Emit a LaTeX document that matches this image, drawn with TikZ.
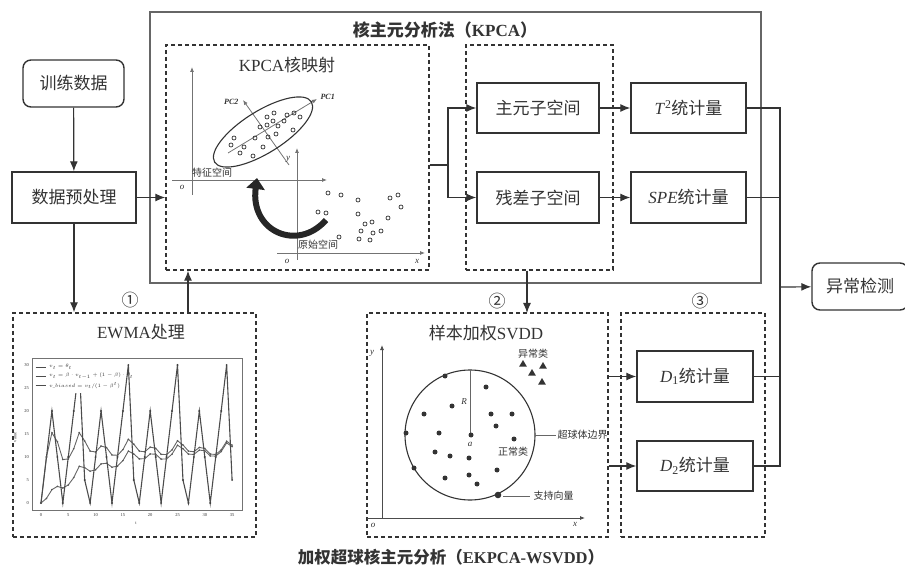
\documentclass[tikz,border=0pt]{standalone}
\usepackage{fontspec}
\setmainfont{Liberation Serif}
\newfontfamily\cjk{Noto Sans CJK SC}
\usepackage{tikz}
\usetikzlibrary{arrows.meta,positioning,calc}

\begin{document}
\begin{tikzpicture}[x=1pt,y=-1pt,line width=1.2pt,color=black!80,
    box/.style={draw,line width=1.4pt,inner sep=0pt,minimum height=50pt,font=\fontsize{17}{20}\selectfont},
    dbox/.style={draw,line width=1.4pt,dash pattern=on 4pt off 3pt,inner sep=0pt},
    arr/.style={-{Latex[length=10pt,width=8pt]}},
    axisarr/.style={black!55,line width=0.8pt,-{Latex[length=5pt,width=4pt]}},
    small/.style={font=\fontsize{10}{11}\selectfont\cjk,inner sep=1pt},
    ital/.style={font=\fontsize{9}{10}\selectfont\itshape,inner sep=1pt},
    ticklab/.style={font=\fontsize{4.5}{5}\selectfont,inner sep=0.5pt}]
        \useasboundingbox (0,0) rectangle (905,569);

        % KPCA frame
        \node[draw=black!60,line width=1.5pt,minimum width=611pt,minimum height=271pt] (kpca) at (455.5,147.5) {};
        \node[font=\fontsize{17}{20}\selectfont\bfseries] (kpcatitle) at (445,30) {{\cjk 核主元分析法（}KPCA{\cjk ）}};

        % dashed frames
        \node[dbox,minimum width=263pt,minimum height=225pt] (mapbox) at (297.5,157.5) {};
        \node[dbox,minimum width=147pt,minimum height=225pt] (subbox) at (539.5,157.5) {};
        \node[dbox,minimum width=243pt,minimum height=224pt] (ewmabox) at (134.5,425) {};
        \node[dbox,minimum width=241pt,minimum height=224pt] (svddbox) at (487.5,425) {};
        \node[dbox,minimum width=144pt,minimum height=224pt] (statbox) at (693,425) {};

        % boxes
        \node[box,rounded corners=8pt,minimum width=101pt,minimum height=47pt] (train) at (73.5,83.5) {\cjk 训练数据};
        \node[box,minimum width=124pt,minimum height=51pt] (prep) at (74,197.5) {\cjk 数据预处理};
        \node[box,minimum width=122pt] (pcs) at (538,108) {\cjk 主元子空间};
        \node[box,minimum width=122pt,minimum height=51pt] (res) at (538,197.5) {\cjk 残差子空间};
        \node[box,minimum width=115pt] (tsq) at (688.5,108) {\textit{T}\textsuperscript{2}{\cjk 统计量}};
        \node[box,minimum width=115pt,minimum height=51pt] (spe) at (688.5,197.5) {\textit{SPE}{\cjk 统计量}};
        \node[box,minimum width=116pt,minimum height=51pt] (d1) at (695,376.5) {\textit{D}\textsubscript{1}{\cjk 统计量}};
        \node[box,minimum width=116pt] (d2) at (695,466) {\textit{D}\textsubscript{2}{\cjk 统计量}};
        \node[box,rounded corners=8pt,minimum width=96pt,minimum height=47pt] (alarm) at (860,286.5) {\cjk 异常检测};

        % numbers and bottom title
        \node[font=\fontsize{17}{20}\selectfont\cjk] (n1) at (130,300) {①};
        \node[font=\fontsize{17}{20}\selectfont\cjk] (n2) at (497,301) {②};
        \node[font=\fontsize{17}{20}\selectfont\cjk] (n3) at (700,301) {③};
        \node[font=\fontsize{16.5}{18}\selectfont\bfseries] (bottomtitle) at (451,557) {{\cjk 加权超球核主元分析（}EKPCA-WSVDD{\cjk ）}};

        % connectors
        \coordinate (e1) at (188,313);
        \coordinate (split) at (448,165);
        \coordinate (s2) at (527,313);
        \coordinate (join) at (780,287);
        \draw[arr] (train) -- (prep);
        \draw[arr] (prep.east) -- (prep.east -| mapbox.west);
        \draw[arr] (prep.south) -- (prep.south |- ewmabox.north);
        \draw[arr] (e1) -- (e1 |- mapbox.south);
        \draw (split -| mapbox.east) -- (split);
        \draw[arr] (split) |- (pcs);
        \draw[arr] (split) |- (res);
        \draw[arr] (pcs) -- (tsq);
        \draw[arr] (res) -- (spe);
        \draw[arr] (s2 |- subbox.south) -- (s2);
        \draw[arr] (d1 -| svddbox.east) -- (d1);
        \draw[arr] (d2 -| svddbox.east) -- (d2);
        \draw (tsq) -| (join);
        \draw (spe) -| (join);
        \draw (d1) -| (join);
        \draw (d2) -| (join);
        \draw[arr] (join) -- (alarm);

        % KPCA map
        \node[font=\fontsize{17}{20}\selectfont] (maptitle) at (287,65) {KPCA{\cjk 核映射}};
        \draw[axisarr] (192,195) -- (192,67);
        \draw[axisarr] (172,180) -- (327,180);
        \node[small] (feat) at (212,173) {特征空间};
        \node[ital] (o1) at (182,187) {o};
        \draw[axisarr] (297,260) -- (297,148);
        \draw[axisarr] (277,253) -- (425,253);
        \node[small] (orig) at (318,245) {原始空间};
        \node[ital] (o2) at (287,261) {o};
        \node[ital] (x1) at (417,261) {x};
        \draw[axisarr] (228,153) -- (317,99);
        \draw[axisarr] (289,165) -- (243,100);
        \node[ital,font=\fontsize{8}{9}\selectfont\bfseries\itshape,anchor=west] (pc1) at (319,97) {PC1};
        \node[ital,font=\fontsize{8}{9}\selectfont\bfseries\itshape,anchor=east] (pc2) at (240,102) {PC2};
        \node[ital] (y1) at (288,159) {y};
        \draw[line width=1.1pt,rotate around={32:(263,132)}] (263,132) ellipse [x radius=57, y radius=21];
        \foreach \p in {(274,113),(267,117),(287,115),(294,113),(300,117),(260,127),(267,125),(273,121),(284,121),(278,126),(293,130),(234,138),(231,145),(255,138),(268,137),(276,134),(244,147),(263,147),(240,153),(253,156)}
          \draw[line width=0.7pt] \p circle (2pt);
        \foreach \p in {(328,193),(341,195),(358,200),(390,198),(398,195),(401,207),(318,212),(326,213),(358,214),(388,218),(365,224),(372,222),(361,231),(373,233),(381,231),(339,237),(359,239),(370,240)}
          \draw[line width=0.7pt] \p circle (2pt);
        \draw[black!85,line width=6pt,-{Triangle[length=11pt,width=18pt]}] (326,220) .. controls (298,252) and (250,232) .. (257,178);

        % EWMA
        \node[font=\fontsize{17}{20}\selectfont] (ewmatitle) at (141,332) {EWMA{\cjk 处理}};
        \begin{scope}[shift={(41,503)},x=5.46pt,y=4.6pt]
          \gdef\ew{0}
          \foreach \th [count=\t from 0] in {0,10,20,10,0,10,20,30,5,0,10,20,10,0,10,20,30,5,0,10,20,10,0,10,20,30,5,0,10,20,10,0,10,20,30,5} {
            \pgfmathsetmacro\ewnew{0.9*\ew+0.1*\th}
            \ifnum\t=0 \def\ewb{0}\else\pgfmathsetmacro\ewb{\ewnew/(1-0.9^\t)}\fi
            \xdef\ew{\ewnew}
            \coordinate (a\t) at (\t,\th);
            \coordinate (b\t) at (\t,\ewnew);
            \coordinate (c\t) at (\t,\ewb);
          }
          \draw[black!55,line width=0.8pt] (-1.65,-1.5) rectangle (36.8,31.5);
          \foreach \v in {0,5,...,30} \node[ticklab,anchor=east] (yt\v) at (-2,\v) {\v};
          \foreach \s in {0,5,...,35} \node[ticklab,anchor=north] (xt\s) at (\s,-2) {\s};
          \node[ticklab] (xlab) at (17.4,-4.4) {t};
          \node[ticklab,rotate=90] (ylab) at (-4.8,14.3) {value};
          \draw[black!60,line width=0.9pt] (b0) \foreach \t in {1,...,35} {-- (b\t)};
          \draw[black!60,line width=0.9pt] (c0) \foreach \t in {1,...,35} {-- (c\t)};
          \draw[black!70,line width=1.1pt] (a0) \foreach \t in {1,...,35} {-- (a\t)};
          \foreach \t in {0,...,35} {
            \fill[black!75] (a\t) circle (1.1pt);
            \fill[black!65] (b\t) circle (0.9pt);
            \fill[black!65] (c\t) circle (0.9pt);
          }
          \fill[white] (-1.3,24) rectangle (13.6,31.2);
          \draw[black!70,line width=0.6pt] (-1,29.6) -- (1,29.6);
          \draw[black!70,line width=0.6pt] (-1,27.6) -- (1,27.6);
          \draw[black!70,line width=0.6pt] (-1,25.6) -- (1,25.6);
          \node[ticklab,anchor=west] (leg1) at (1.3,29.6) {$v_t=\theta_t$};
          \node[ticklab,anchor=west] (leg2) at (1.3,27.6) {$v_t=\beta\cdot v_{t-1}+(1-\beta)\cdot\theta_t$};
          \node[ticklab,anchor=west] (leg3) at (1.3,25.6) {$v\_biased=v_t/(1-\beta^t)$};
        \end{scope}

        % SVDD
        \node[font=\fontsize{17}{20}\selectfont] (svddtitle) at (486,333) {{\cjk 样本加权}SVDD};
        \draw[axisarr,black!70] (382,518) -- (382,345);
        \draw[axisarr,black!70] (367,518) -- (585,518);
        \node[ital] (y2) at (372,353) {y};
        \node[ital] (o3) at (373,525) {o};
        \node[ital] (x2) at (575,524) {x};
        \draw[line width=1.1pt] (470,435) circle (65pt);
        \draw[line width=0.6pt,black!60] (470,435) -- (470,370);
        \node[ital] (rlab) at (464,402) {R};
        \node[ital] (alab) at (470,444) {a};
        \foreach \p in {(445,376),(486,387),(452,406),(424,414),(491,414),(512,414),(496,426),(406,433),(439,433),(471,435),(514,439),(435,452),(450,456),(469,458),(414,468),(497,470),(445,478),(469,475),(477,484)}
          \fill \p circle (2.5pt);
        \fill (498,495) circle (3.3pt);
        \foreach \p in {(523,364),(543,366),(532,373),(542,382)}
          \fill \p ++(0,-4) -- ++(3.8,6.5) -- ++(-7.6,0) -- cycle;
        \node[small] (abn) at (533,354) {异常类};
        \node[small] (nor) at (513,452) {正常类};
        \draw[line width=0.6pt,black!60] (535,435) -- (556,435);
        \node[small,anchor=west] (bound) at (556,435) {超球体边界};
        \draw[line width=0.6pt,black!60] (503,496) -- (530,496);
        \node[small,anchor=west] (sv) at (532,496) {支持向量};
      \end{tikzpicture}
\end{document}
